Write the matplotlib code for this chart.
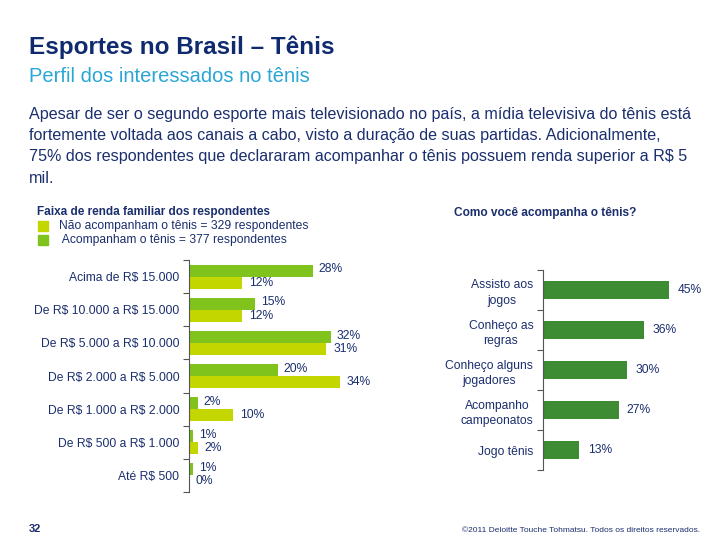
import matplotlib
matplotlib.use("Agg")
import matplotlib.pyplot as plt
from matplotlib.patches import Rectangle
import numpy as np

plt.rcParams['font.family'] = ['Liberation Sans', 'DejaVu Sans']
plt.rcParams['text.parse_math'] = False

# data: renda familiar
faixas = ["Acima de R$ 15.000", "De R$ 10.000 a R$ 15.000", "De R$ 5.000 a R$ 10.000",
          "De R$ 2.000 a R$ 5.000", "De R$ 1.000 a R$ 2.000", "De R$ 500 a R$ 1.000",
          "Até R$ 500"]
acompanham = [28, 15, 32, 20, 2, 1, 1]
nao_acompanham = [12, 12, 31, 34, 10, 2, 0]

# data: como acompanha
formas = ["Assisto aos\njogos", "Conheço as\nregras", "Conheço alguns\njogadores",
          "Acompanho\ncampeonatos", "Jogo tênis"]
formas_pct = [45, 36, 30, 27, 13]

W, H = 728, 546
NAVY = "#1b2f6e"
TITLE = "#0f2a6e"
SUB = "#2aa6d6"
GREEN = "#80c31c"
YELLOW = "#c3d600"
DARK_GREEN = "#3d8b33"
AXIS = "#555555"

fig = plt.figure(figsize=(W / 100, H / 100), dpi=100)
fig.patch.set_facecolor("white")

def px(x, y):
    return x / W, 1 - y / H

def add_ax(left, top, width, height):
    return fig.add_axes([left / W, 1 - (top + height) / H, width / W, height / H])

# header texts
fig.text(*px(29, 47), "Esportes no Brasil – Tênis", fontsize=17.5, fontweight="bold",
         color=TITLE, va="center")
fig.text(*px(29, 76), "Perfil dos interessados no tênis", fontsize=14.5, color=SUB, va="center")
body = ["Apesar de ser o segundo esporte mais televisionado no país, a mídia televisiva do tênis está",
        "fortemente voltada aos canais a cabo, visto a duração de suas partidas. Adicionalmente,",
        "75% dos respondentes que declararam acompanhar o tênis possuem renda superior a R$ 5",
        "mil."]
for i, line in enumerate(body):
    fig.text(*px(29, 114 + i * 21.5), line, fontsize=11.6, color=NAVY, va="center")

# left chart header + legend
fig.text(*px(37, 212), "Faixa de renda familiar dos respondentes", fontsize=8.5,
         fontweight="bold", color=NAVY, va="center")
legend_items = [(YELLOW, "Não acompanham o tênis = 329 respondentes"),
                (GREEN, " Acompanham o tênis = 377 respondentes")]
for i, (c, t) in enumerate(legend_items):
    y = 226 + i * 14
    fig.patches.append(Rectangle(px(38, y + 5), 10 / W, 10 / H, color=c,
                                 transform=fig.transFigure, figure=fig))
    fig.text(*px(59, y), t, fontsize=8.7, color=NAVY, va="center")

# left chart
ax = add_ax(189, 260, 190, 232)
ypos = np.arange(len(faixas))
bh = 0.36
ax.barh(ypos - bh / 2, acompanham, height=bh, color=GREEN)
ax.barh(ypos + bh / 2, nao_acompanham, height=bh, color=YELLOW)
for y, v in zip(ypos, acompanham):
    ax.annotate(f"{v}%", (v, y - bh / 2), xytext=(4, 1), textcoords="offset points",
                fontsize=8.7, color=NAVY, va="center")
for y, v in zip(ypos, nao_acompanham):
    ax.annotate(f"{v}%", (v, y + bh / 2), xytext=(5, 0), textcoords="offset points",
                fontsize=8.7, color=NAVY, va="center")
ax.set_xlim(0, 190 / 4.43)
ax.set_ylim(len(faixas) - 0.5, -0.5)
ax.set_yticks(ypos)
ax.set_yticklabels(faixas, fontsize=8.7, color=NAVY)
ax.set_yticks(np.arange(-0.5, len(faixas)), minor=True)
ax.tick_params(axis="y", which="major", length=0, pad=7)
ax.tick_params(axis="y", which="minor", length=4, color=AXIS, width=0.8)
ax.set_xticks([])
for s in ["top", "right", "bottom"]:
    ax.spines[s].set_visible(False)
ax.spines["left"].set_color(AXIS)
ax.spines["left"].set_linewidth(0.8)
ax.patch.set_alpha(0)

# right chart
fig.text(*px(454, 213), "Como você acompanha o tênis?", fontsize=8.6, fontweight="bold",
         color=NAVY, va="center")
ax2 = add_ax(543, 270, 160, 200)
ypos2 = np.arange(len(formas))
ax2.barh(ypos2, formas_pct, height=0.45, color=DARK_GREEN)
for y, v in zip(ypos2, formas_pct):
    ax2.annotate(f"{v}%", (v, y), xytext=(6, 0), textcoords="offset points",
                 fontsize=8.7, color=NAVY, va="center")
ax2.set_xlim(0, 160 / 2.8)
ax2.set_ylim(len(formas) - 0.5, -0.5)
ax2.set_yticks(ypos2)
ax2.set_yticklabels(formas, fontsize=8.7, color=NAVY, multialignment="center",
                    linespacing=1.35)
ax2.set_yticks(np.arange(-0.5, len(formas)), minor=True)
ax2.tick_params(axis="y", which="major", length=0, pad=7)
ax2.tick_params(axis="y", which="minor", length=4, color=AXIS, width=0.8)
ax2.set_xticks([])
for s in ["top", "right", "bottom"]:
    ax2.spines[s].set_visible(False)
ax2.spines["left"].set_color(AXIS)
ax2.spines["left"].set_linewidth(0.8)
ax2.patch.set_alpha(0)

# footer
fig.text(*px(29, 529), "32", fontsize=8, fontweight="bold", color=NAVY, va="center")
fig.text(*px(700, 530), "©2011 Deloitte Touche Tohmatsu. Todos os direitos reservados.",
         fontsize=6, color=NAVY, va="center", ha="right")

fig.savefig("out.png", dpi=100)
